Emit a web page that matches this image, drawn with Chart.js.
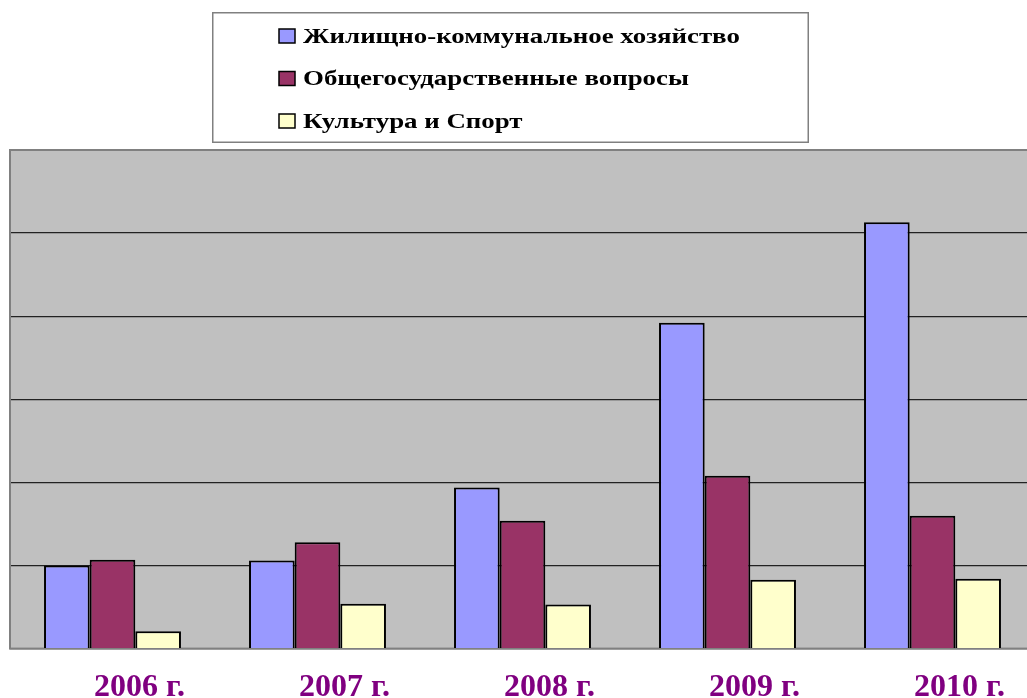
<!DOCTYPE html>
<html>
<head>
<meta charset="utf-8">
<script src="https://cdn.jsdelivr.net/npm/chart.js@4/dist/chart.umd.min.js"></script>
<style>
  html, body { margin: 0; padding: 0; background: #fff; overflow: hidden; }
  #wrap { position: relative; width: 1037px; height: 727px; }
</style>
</head>
<body>
<div id="wrap">
  <canvas id="c"></canvas>
</div>
<script>
const categories = ['2006 г.', '2007 г.', '2008 г.', '2009 г.', '2010 г.'];
const seriesNames = ['Жилищно-коммунальное хозяйство', 'Общегосударственные вопросы', 'Культура и Спорт'];
const housing = [10.0, 10.6, 19.4, 39.2, 51.3];
const government = [10.7, 12.8, 15.4, 20.8, 16.0];
const cultureSport = [2.1, 5.4, 5.3, 8.3, 8.4];
const seriesColors = ['#9999FF', '#993366', '#FFFFCC'];

const serif = "'Liberation Serif', 'Times New Roman', serif";

const plotBg = {
  id: 'plotBg',
  beforeDraw(chart) {
    const {ctx, chartArea: a} = chart;
    ctx.save();
    ctx.fillStyle = '#C0C0C0';
    ctx.fillRect(a.left, a.top, a.right - a.left, a.bottom - a.top);
    ctx.restore();
  },
  beforeDatasetsDraw(chart) {
    const {ctx, chartArea: a} = chart;
    ctx.save();
    ctx.strokeStyle = '#808080';
    ctx.lineWidth = 2;
    ctx.strokeRect(a.left, a.top, a.right - a.left, a.bottom - a.top);
    ctx.restore();
  }
};

// Legend box drawn from the datasets (vertical list inside a framed box)
const boxLegend = {
  id: 'boxLegend',
  afterDraw(chart) {
    const {ctx} = chart;
    ctx.save();
    ctx.fillStyle = '#fff';
    ctx.fillRect(212, 12, 597, 131);
    ctx.strokeStyle = '#808080';
    ctx.lineWidth = 1.5;
    ctx.strokeRect(212.75, 12.75, 595.5, 129.5);
    chart.data.datasets.forEach((ds, i) => {
      const cy = 36 + 42.5 * i;
      ctx.fillStyle = ds.backgroundColor;
      ctx.fillRect(279, cy - 7, 16, 14);
      ctx.strokeStyle = '#000';
      ctx.lineWidth = 1.5;
      ctx.strokeRect(279, cy - 7, 16, 14);
      ctx.save();
      ctx.translate(303, cy);
      ctx.scale(1.25, 1);
      ctx.fillStyle = '#000';
      ctx.font = 'bold 21.5px ' + serif;
      ctx.textBaseline = 'middle';
      ctx.textAlign = 'left';
      ctx.fillText(ds.label, 0, 1);
      ctx.restore();
    });
    ctx.restore();
  }
};

const dataSeries = [housing, government, cultureSport];
const chart = new Chart(document.getElementById('c'), {
  type: 'bar',
  data: {
    labels: categories,
    datasets: seriesNames.map((n, i) => ({
      label: n,
      data: dataSeries[i],
      backgroundColor: seriesColors[i],
      borderColor: '#000',
      borderWidth: 2,
      categoryPercentage: 0.668,
      barPercentage: 1.0
    }))
  },
  options: {
    responsive: true,
    maintainAspectRatio: false,
    animation: false,
    layout: { padding: { top: 150, left: 10, right: 2, bottom: 0 } },
    plugins: { legend: { display: false }, tooltip: { enabled: false } },
    scales: {
      x: {
        grid: { display: false, drawTicks: false },
        border: { display: false },
        ticks: {
          color: '#800080',
          padding: 20,
          labelOffset: 27,
          font: { family: serif, weight: 'bold', size: 32 }
        }
      },
      y: {
        min: 0, max: 60,
        ticks: { display: false, stepSize: 10 },
        grid: { color: '#222', lineWidth: 1.2, drawTicks: false },
        border: { display: false }
      }
    }
  },
  plugins: [plotBg, boxLegend]
});
</script>
</body>
</html>
